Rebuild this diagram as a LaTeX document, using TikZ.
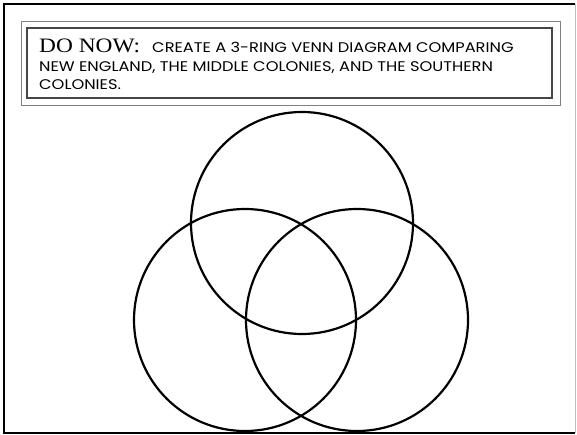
\documentclass[tikz,border=0pt]{standalone}
\usepackage{fontspec}
\setmainfont{Liberation Serif}
\newfontfamily\gothicfont[FakeStretch=1.16]{Poppins}
\newfontfamily\headfont[FakeStretch=1.14]{Liberation Serif}
\definecolor{boxgray}{RGB}{128,128,128}
\definecolor{boxdark}{RGB}{70,70,70}
\definecolor{edgegray}{RGB}{190,190,190}
\usetikzlibrary{positioning}

\begin{document}
\begin{tikzpicture}[x=1pt, y=-1pt,
  ring/.style={circle, draw=black, line width=2.2pt, minimum size=222pt, inner sep=0pt},
  taskline/.style={anchor=base west, inner sep=0pt, font=\gothicfont\fontsize{14}{16}\selectfont}]
  \useasboundingbox (0,0) rectangle (577,435);

  % Slide frame
  \draw[line width=2pt, black] (575,4) -- (4,4) -- (4,433) -- (575,433);
  \draw[line width=1pt, edgegray] (575.5,4) -- (575.5,433);

  % Do-now box, double border
  \node[draw=boxgray, line width=1pt, minimum width=539pt, minimum height=84pt, inner sep=0pt] (outerbox) at (290.5,64) {};
  \node[draw=boxdark, line width=1.3pt, minimum width=525pt, minimum height=70pt, inner sep=0pt] (innerbox) at (289.5,63) {};

  % Task text
  \node[taskline] (line1) at (39,53) {{\headfont\fontsize{20.5}{21}\selectfont DO NOW:}\hspace{12pt}CREATE A 3-RING VENN DIAGRAM COMPARING};
  \node[taskline] (line2) at (39,72) {NEW ENGLAND, THE MIDDLE COLONIES, AND THE SOUTHERN};
  \node[taskline] (line3) at (39,90) {COLONIES.};

  % Three rings
  \node[ring] (newengland) at (302,223) {};
  \node[ring] (middle) at (245,320) {};
  \node[ring] (southern) at (357,320) {};
\end{tikzpicture}
\end{document}
